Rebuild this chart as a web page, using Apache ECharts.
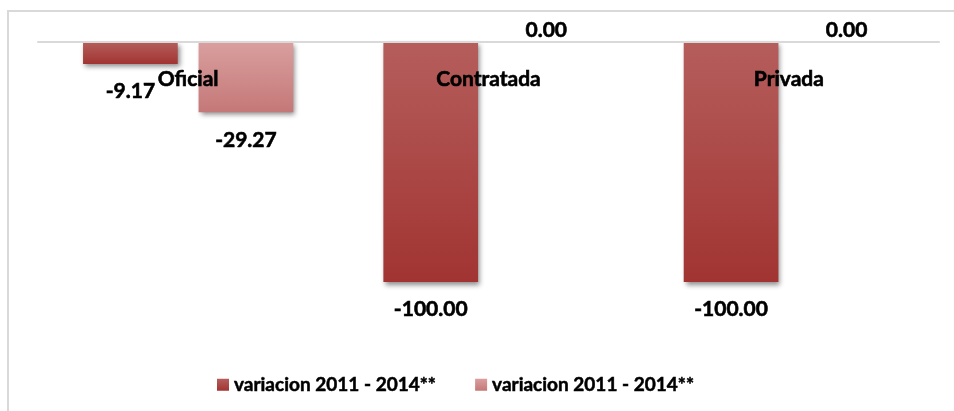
<!DOCTYPE html>
<html>
<head>
<meta charset="utf-8">
<script src="https://cdn.jsdelivr.net/npm/echarts@6/dist/echarts.min.js"></script>
<style>
  html, body { margin: 0; padding: 0; background: #fff; }
  #chart { width: 954px; height: 411px; }
</style>
</head>
<body>
<div id="chart"></div>
<script>
var categories = ['Oficial', 'Contratada', 'Privada'];
var seriesNames = ['variacion 2011 - 2014**', 'variacion 2011 - 2014**'];
var darkValues = [-9.17, -100, -100];
var lightValues = [-29.27, 0, 0];

var myChart = echarts.init(document.getElementById('chart'));

var fontFam = 'Lato, "Open Sans", sans-serif';

function grad(top, bottom) {
    return new echarts.graphic.LinearGradient(0, 0, 0, 1, [
        { offset: 0, color: top },
        { offset: 1, color: bottom }
    ]);
}

// zero values get their label above the axis, like the original
function withLabels(arr) {
    return arr.map(function (v) {
        if (v === 0) {
            return { value: v, label: { position: 'top', distance: 1 } };
        }
        return v;
    });
}

var labelStyle = {
    show: true,
    position: 'bottom',
    distance: 17,
    color: '#000',
    fontFamily: fontFam,
    fontWeight: 'bold',
    fontSize: 21,
    textBorderColor: '#000',
    textBorderWidth: 0.6,
    formatter: function (p) { return p.value.toFixed(2); }
};

var shadow = {
    shadowBlur: 5,
    shadowColor: 'rgba(0,0,0,0.45)',
    shadowOffsetX: 2,
    shadowOffsetY: 3
};

var option = {
    animation: false,
    graphic: [{
        type: 'rect',
        shape: { x: 8, y: 11, width: 1000, height: 500 },
        style: { fill: 'none', stroke: '#d9d9d9', lineWidth: 2 },
        silent: true,
        z: -1
    }],
    grid: { left: 38, right: 15, top: 42, height: 240 },
    legend: {
        left: 212,
        top: 370,
        itemWidth: 12,
        itemHeight: 12,
        itemGap: 39,
        textStyle: {
            color: '#000', fontFamily: fontFam, fontWeight: 'bold', fontSize: 19,
            textBorderColor: '#000', textBorderWidth: 0.5
        },
        data: [
            { name: seriesNames[0], icon: 'rect' },
            { name: seriesNames[1] + ' ', icon: 'rect' }
        ]
    },
    xAxis: {
        type: 'category',
        data: categories,
        position: 'top',
        z: 5,
        axisLine: { onZero: false, lineStyle: { color: '#d9d9d9', width: 2 } },
        axisTick: { show: false },
        axisLabel: {
            inside: true,
            margin: 27,
            color: '#000',
            fontFamily: fontFam,
            fontWeight: 'bold',
            fontSize: 21,
            textBorderColor: '#000',
            textBorderWidth: 0.6
        }
    },
    yAxis: {
        type: 'value',
        min: -100,
        max: 0,
        show: false,
        splitLine: { show: false }
    },
    series: [{
        name: seriesNames[0],
        type: 'bar',
        barGap: '22%',
        barCategoryGap: '30%',
        data: withLabels(darkValues),
        itemStyle: Object.assign({ color: grad('#b55e5c', '#a13432') }, shadow),
        label: labelStyle
    }, {
        name: seriesNames[1] + ' ',
        type: 'bar',
        data: withLabels(lightValues),
        itemStyle: Object.assign({ color: grad('#da9f9f', '#c47877') }, shadow),
        label: labelStyle
    }]
};

myChart.setOption(option);
</script>
</body>
</html>
